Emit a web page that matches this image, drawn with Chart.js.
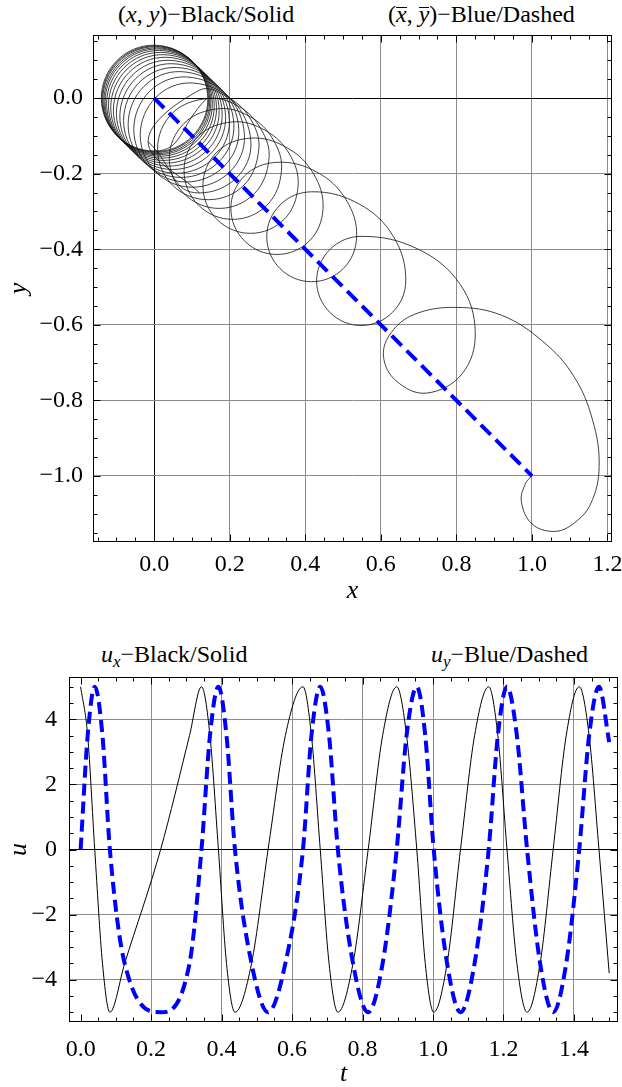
<!DOCTYPE html>
<html>
<head>
<meta charset="utf-8">
<script src="https://cdn.jsdelivr.net/npm/chart.js@4.4.1/dist/chart.umd.min.js"></script>
<style>
    body { margin: 0; background: #fff; }
    #wrap { position: relative; width: 622px; height: 1087px; font-family: "Liberation Serif", "DejaVu Serif", serif; }
    canvas { position: absolute; left: 0; }
    .cap { position: absolute; font-size: 24px; line-height: 24px; white-space: nowrap; color: #000; }
    .cap sub { font-size: 17px; vertical-align: -5px; }
    .bar { display: inline-block; line-height: 0.56em; border-top: 1px solid #000; }
</style>
</head>
<body>
<div id="wrap">
    <div class="cap" style="left:118px; top:2px">(<i>x</i>, <i>y</i>)&minus;Black/Solid</div>
    <div class="cap" style="left:388px; top:2px">(<i class="bar">x</i>, <i class="bar">y</i>)&minus;Blue/Dashed</div>
    <canvas id="trackChart" width="622" height="610" style="top:0"></canvas>
    <div class="cap" style="left:101px; top:642px"><i>u</i><sub><i>x</i></sub>&minus;Black/Solid</div>
    <div class="cap" style="left:431px; top:642px"><i>u</i><sub><i>y</i></sub>&minus;Blue/Dashed</div>
    <canvas id="velocityChart" width="622" height="447" style="top:640px"></canvas>
</div>
<script>
// tight loops round the origin, one row per loop (right, bottom, left, top)
const denseX = [
    0.140, 0.000, -0.140, 0.000,
    0.142, 0.002, -0.138, 0.002,
    0.144, 0.004, -0.136, 0.004,
    0.147, 0.007, -0.133, 0.007,
    0.150, 0.010, -0.130, 0.010,
    0.154, 0.014, -0.126, 0.014,
    0.159, 0.019, -0.121, 0.019,
    0.165, 0.025, -0.115, 0.025,
    0.172, 0.032, -0.108, 0.032,
    0.180, 0.040, -0.100, 0.040,
    0.189, 0.049, -0.091, 0.049,
    0.199, 0.059, -0.081, 0.059,
    0.211, 0.071, -0.069, 0.071,
    0.224, 0.085, -0.054, 0.085,
    0.239, 0.101, -0.037, 0.101,
    0.256, 0.120, -0.016
];
const denseY = [
    0.000, -0.140, 0.000, 0.140,
    -0.002, -0.142, -0.002, 0.138,
    -0.004, -0.144, -0.004, 0.136,
    -0.007, -0.147, -0.007, 0.133,
    -0.010, -0.150, -0.010, 0.130,
    -0.014, -0.154, -0.014, 0.126,
    -0.019, -0.159, -0.019, 0.121,
    -0.025, -0.165, -0.025, 0.115,
    -0.032, -0.172, -0.032, 0.108,
    -0.040, -0.180, -0.040, 0.100,
    -0.049, -0.189, -0.049, 0.091,
    -0.059, -0.199, -0.059, 0.081,
    -0.070, -0.210, -0.070, 0.070,
    -0.083, -0.222, -0.083, 0.056,
    -0.098, -0.236, -0.098, 0.040,
    -0.115, -0.251, -0.115
];

// wider loops down the diagonal (right, round to top, then the arc over to the next loop),
// then the two big loops ending at (1, -1)
const outerX = [
    0.120, -0.016, 0.120, 0.199, 0.256,
    0.277, 0.238, 0.143, 0.048, 0.009, 0.048, 0.143, 0.224, 0.282,
    0.304, 0.265, 0.172, 0.079, 0.040, 0.079, 0.172, 0.255, 0.315,
    0.337, 0.299, 0.208, 0.117, 0.079, 0.117, 0.208, 0.295, 0.358,
    0.381, 0.344, 0.255, 0.166, 0.129, 0.166, 0.255, 0.351, 0.421,
    0.447, 0.411, 0.325, 0.239, 0.203, 0.239, 0.325, 0.431, 0.508,
    0.536, 0.501, 0.417, 0.333, 0.298, 0.333, 0.417, 0.542, 0.633,
    0.666, 0.631, 0.548, 0.465, 0.430, 0.465, 0.548, 0.699, 0.810,
    0.850, 0.815, 0.720, 0.640, 0.607, 0.628, 0.690, 0.800,
    0.920, 1.030, 1.110, 1.160, 1.178, 1.155, 1.105, 1.056, 1.000, 0.972, 0.983, 1.000
];
const outerY = [
    -0.251, -0.115, 0.021, 0.000, -0.057,
    -0.135, -0.230, -0.269, -0.230, -0.135, -0.040, -0.001, -0.022, -0.081,
    -0.160, -0.253, -0.292, -0.253, -0.160, -0.067, -0.028, -0.050, -0.110,
    -0.192, -0.283, -0.321, -0.283, -0.192, -0.101, -0.063, -0.086, -0.148,
    -0.232, -0.321, -0.358, -0.321, -0.232, -0.143, -0.106, -0.131, -0.199,
    -0.292, -0.378, -0.414, -0.378, -0.292, -0.206, -0.170, -0.196, -0.269,
    -0.367, -0.451, -0.486, -0.451, -0.367, -0.283, -0.248, -0.280, -0.366,
    -0.484, -0.567, -0.602, -0.567, -0.484, -0.401, -0.366, -0.400, -0.493,
    -0.620, -0.730, -0.781, -0.748, -0.683, -0.620, -0.572, -0.554,
    -0.575, -0.645, -0.735, -0.850, -0.975, -1.075, -1.130, -1.147, -1.127, -1.068, -1.020, -1.000
];

// guiding centre
const centreX = [0, 1];
const centreY = [0, -1];

// velocity components against time
const tValues = [0.000, 0.020, 0.040, 0.062, 0.083, 0.125, 0.227, 0.309, 0.343, 0.367, 0.391, 0.414,
    0.438, 0.485, 0.532, 0.581, 0.631, 0.655, 0.680, 0.705, 0.730, 0.773, 0.816, 0.857,
    0.897, 0.925, 0.954, 0.978, 1.002, 1.040, 1.078, 1.118, 1.158, 1.184, 1.210, 1.238,
    1.267, 1.304, 1.341, 1.378, 1.415, 1.443, 1.471, 1.500];
const uxValues = [5, 3.5, 0, -3.5, -5, -3.5, 0, 3.5, 5, 3.5, 0, -3.5,
    -5, -3.5, 0, 3.5, 5, 3.5, 0, -3.5, -5, -3.5, 0, 3.5,
    5, 3.5, 0, -3.5, -5, -3.5, 0, 3.5, 5, 3.5, 0, -3.5,
    -5, -3.5, 0, 3.5, 5, 3.5, 0, -3.8];
const uyValues = [0, 3.5, 5, 3.5, 0, -3.5, -5, -3.5, 0, 3.5, 5, 3.5,
    0, -3.5, -5, -3.5, 0, 3.5, 5, 3.5, 0, -3.5, -5, -3.5,
    0, 3.5, 5, 3.5, 0, -3.5, -5, -3.5, 0, 3.5, 5, 3.5,
    0, -3.5, -5, -3.5, 0, 3.5, 5, 3.3];

const trackXTicks = [0, 0.2, 0.4, 0.6, 0.8, 1.0, 1.2];
const trackYTicks = [-1.0, -0.8, -0.6, -0.4, -0.2, 0.0];
const timeTicks = [0, 0.2, 0.4, 0.6, 0.8, 1.0, 1.2, 1.4];
const speedTicks = [-4, -2, 0, 2, 4];

const FONT = '"Liberation Serif", "Times New Roman", serif';
const GRID = '#8c8c8c';

function points(xs, ys) {
    return xs.map((x, i) => ({x: x, y: ys[i]}));
}

function formatTick(value, digits) {
    const text = Math.abs(value).toFixed(digits);
    return value < -1e-9 ? '\u2212' + text : text;
}

function minorValues(scale, step) {
    const out = [];
    for (let i = Math.ceil(scale.min / step - 1e-9); i * step <= scale.max + 1e-9; i++) {
        out.push(i * step);
    }
    return out;
}

function isMajor(value, step) {
    return Math.abs(value / step - Math.round(value / step)) < 1e-6;
}

// Mathematica style frame: box with inward ticks on all four sides
const frameTicks = {
    id: 'frameTicks',
    afterDraw(chart, args, opts) {
        const {ctx, chartArea: area, scales} = chart;
        const left = Math.round(area.left) + 0.5, right = Math.round(area.right) - 0.5;
        const top = Math.round(area.top) + 0.5, bottom = Math.round(area.bottom) - 0.5;
        ctx.save();
        ctx.strokeStyle = '#000';
        ctx.lineWidth = 1;
        ctx.beginPath();
        for (const v of minorValues(scales.x, opts.minorX)) {
            const px = Math.round(scales.x.getPixelForValue(v)) + 0.5;
            const len = isMajor(v, opts.majorX) ? 7 : 4;
            ctx.moveTo(px, bottom); ctx.lineTo(px, bottom - len);
            ctx.moveTo(px, top); ctx.lineTo(px, top + len);
        }
        for (const v of minorValues(scales.y, opts.minorY)) {
            const py = Math.round(scales.y.getPixelForValue(v)) + 0.5;
            const len = isMajor(v, opts.majorY) ? 7 : 4;
            ctx.moveTo(left, py); ctx.lineTo(left + len, py);
            ctx.moveTo(right, py); ctx.lineTo(right - len, py);
        }
        ctx.stroke();
        ctx.strokeRect(left, top, right - left, bottom - top);
        ctx.restore();
    }
};

function axis(min, max, ticks, digits, size, titleText, titlePad, gridColour, labelPad) {
    return {
        type: 'linear',
        min: min,
        max: max,
        afterBuildTicks: s => { s.ticks = ticks.map(v => ({value: v})); },
        afterFit: s => {
            if (s.isHorizontal()) { s.height = size; s.paddingLeft = 0; s.paddingRight = 0; }
            else { s.width = size; s.paddingTop = 0; s.paddingBottom = 0; }
        },
        grid: {color: gridColour, lineWidth: 1, drawTicks: false},
        border: {display: false},
        ticks: {
            color: '#000',
            padding: labelPad,
            autoSkip: false,
            maxRotation: 0,
            font: {family: FONT, size: 24},
            callback: v => formatTick(v, digits)
        },
        title: {
            display: true,
            text: titleText,
            color: '#000',
            font: {family: FONT, size: 26, style: 'italic', lineHeight: 1},
            padding: titlePad
        }
    };
}

const zeroBlack = c => (c.tick && Math.abs(c.tick.value) < 1e-9 ? '#000' : GRID);
const zeroHidden = c => (c.tick && Math.abs(c.tick.value) < 1e-9 ? 'rgba(0,0,0,0)' : GRID);

new Chart(document.getElementById('trackChart'), {
    type: 'scatter',
    data: {
        datasets: [
            {
                data: points(centreX, centreY),
                showLine: true,
                borderColor: '#0000ff',
                borderWidth: 4,
                borderDash: [14, 7],
                pointRadius: 0,
                order: 0
            },
            {
                data: points(denseX, denseY),
                showLine: true,
                borderColor: '#111',
                borderWidth: 0.8,
                tension: 0.55,
                pointRadius: 0,
                order: 1
            },
            {
                data: points(outerX, outerY),
                showLine: true,
                borderColor: '#111',
                borderWidth: 0.8,
                tension: 0.38,
                pointRadius: 0,
                order: 2
            }
        ]
    },
    options: {
        responsive: false,
        animation: false,
        events: [],
        layout: {padding: {top: 35, right: 10, left: 0, bottom: 0}},
        elements: {line: {capBezierPoints: false}},
        scales: {
            x: axis(-0.162, 1.212, trackXTicks, 1, 68, 'x', {top: 0, bottom: 6}, zeroBlack, 8),
            y: axis(-1.175, 0.167, trackYTicks, 1, 93, 'y', {top: 6, bottom: 0}, zeroBlack, 10)
        },
        plugins: {
            legend: {display: false},
            tooltip: {enabled: false},
            frameTicks: {minorX: 0.05, majorX: 0.2, minorY: 0.05, majorY: 0.2}
        }
    },
    plugins: [frameTicks]
});

new Chart(document.getElementById('velocityChart'), {
    type: 'scatter',
    data: {
        datasets: [
            {
                data: points(tValues, uyValues),
                showLine: true,
                borderColor: '#0000ff',
                borderWidth: 4,
                borderDash: [12, 6],
                cubicInterpolationMode: 'monotone',
                pointRadius: 0,
                order: 0
            },
            {
                data: points(tValues, uxValues),
                showLine: true,
                borderColor: '#000',
                borderWidth: 1,
                cubicInterpolationMode: 'monotone',
                pointRadius: 0,
                order: 1
            }
        ]
    },
    options: {
        responsive: false,
        animation: false,
        events: [],
        layout: {padding: {top: 37, right: 4, left: 0, bottom: 0}},
        elements: {line: {capBezierPoints: false}},
        scales: {
            x: axis(-0.033, 1.525, timeTicks, 1, 65, 't', {top: 0, bottom: 0}, zeroHidden, 13),
            y: axis(-5.3, 5.3, speedTicks, 0, 69, 'u', {top: 6, bottom: 0}, zeroBlack, 12)
        },
        plugins: {
            legend: {display: false},
            tooltip: {enabled: false},
            frameTicks: {minorX: 0.05, majorX: 0.2, minorY: 0.5, majorY: 2}
        }
    },
    plugins: [frameTicks]
});
</script>
</body>
</html>
